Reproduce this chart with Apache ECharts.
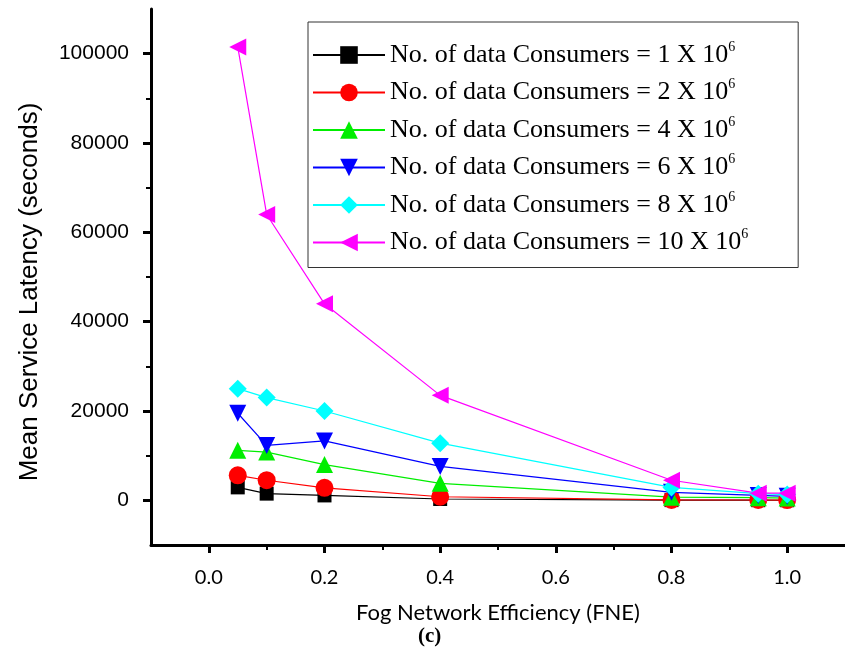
<!DOCTYPE html>
<html>
<head>
<meta charset="utf-8">
<script src="https://cdn.jsdelivr.net/npm/echarts@6/dist/echarts.min.js"></script>
<style>
  html, body { margin: 0; padding: 0; background: #fff; }
  #dom { width: 845px; height: 664px; }
</style>
</head>
<body>
<div id="dom"></div>
<script>
// fog network efficiency (x) and mean latency per consumer count
const fne = [0.05, 0.1, 0.2, 0.4, 0.8, 0.95, 1.0];
const consumers = [1, 2, 4, 6, 8, 10];
const lat1 = [2900, 1500, 1100, 300, 50, 30, 20];
const lat2 = [5600, 4500, 2800, 800, 100, 80, 60];
const lat4 = [11200, 10800, 8000, 3800, 700, 600, 500];
const lat6 = [19500, 12300, 13300, 7600, 1800, 1100, 900];
const lat8 = [25000, 23000, 20000, 12800, 2900, 1500, 1300];
const lat10 = [101500, 64000, 44000, 23500, 4500, 1600, 1600];
const yMajor = [0, 20000, 40000, 60000, 80000, 100000];
const yMinor = [10000, 30000, 50000, 70000, 90000];
const xMajor = [0, 0.2, 0.4, 0.6, 0.8, 1.0];
const xMinor = [0.1, 0.3, 0.5, 0.7, 0.9];

const latencies = [lat1, lat2, lat4, lat6, lat8, lat10];
const colors = ['#000000', '#ff0000', '#00ee00', '#0000ff', '#00ffff', '#ff00ff'];
const symbols = ['rect', 'circle', 'triangle', 'triangle', 'diamond', 'triangle'];
const rotates = [0, 0, 0, 180, 0, 90];
const sizes = [14, 18, 17, 17, 18, 17];

let series = consumers.map((c, i) => ({
  name: 'No. of data Consumers = ' + c + ' X 10',
  type: 'line',
  data: fne.map((x, j) => [x, latencies[i][j]]),
  symbol: symbols[i],
  symbolRotate: rotates[i],
  symbolSize: sizes[i],
  color: colors[i],
  lineStyle: { width: 1.2, color: colors[i] },
  itemStyle: { color: colors[i] }
}));

let option = {
  animation: false,
  grid: { left: 151, top: 9, right: -9, bottom: 119, containLabel: false },
  legend: {
    orient: 'vertical',
    left: 308,
    top: 22,
    padding: [18, 50, 10, 4],
    borderColor: '#333',
    borderWidth: 1,
    itemWidth: 72,
    itemHeight: 22,
    itemGap: 7.5,
    itemTextGap: 13,
    formatter: name => name + '{sup|6}',
    textStyle: {
      fontFamily: 'Liberation Serif',
      fontSize: 26,
      lineHeight: 30,
      color: '#000',
      rich: {
        sup: { fontFamily: 'Liberation Serif', fontSize: 14, lineHeight: 14, verticalAlign: 'top', color: '#000' }
      }
    },
    data: series.map(s => s.name)
  },
  xAxis: [
    {
      type: 'value',
      min: -0.1,
      max: 1.1,
      interval: 0.1,
      name: 'Fog Network Efficiency (FNE)',
      nameLocation: 'middle',
      nameGap: 57,
      nameTextStyle: { fontFamily: 'Lato', fontSize: 22, color: '#000' },
      axisLine: { onZero: false, lineStyle: { color: '#000', width: 3 } },
      axisTick: { customValues: xMajor, length: 8, lineStyle: { width: 3 } },
      axisLabel: {
        customValues: xMajor,
        margin: 23,
        fontFamily: 'Lato',
        fontSize: 20,
        color: '#000',
        formatter: v => v.toFixed(1)
      },
      splitLine: { show: false }
    },
    {
      type: 'value',
      position: 'bottom',
      min: -0.1,
      max: 1.1,
      interval: 0.1,
      axisLine: { show: false, onZero: false },
      axisTick: { customValues: xMinor, length: 5, lineStyle: { color: '#000', width: 2 } },
      axisLabel: { show: false },
      splitLine: { show: false }
    }
  ],
  yAxis: [
    {
      type: 'value',
      min: -10000,
      max: 110000,
      interval: 10000,
      name: 'Mean Service Latency (seconds)',
      nameLocation: 'middle',
      nameGap: 108,
      nameTextStyle: { fontFamily: 'Liberation Sans', fontSize: 26, color: '#000', padding: [0, 30, 0, 0] },
      axisLine: { show: true, onZero: false, lineStyle: { color: '#000', width: 3 } },
      axisTick: { customValues: yMajor, length: 8, lineStyle: { width: 3 } },
      axisLabel: {
        customValues: yMajor,
        margin: 22,
        fontFamily: 'Liberation Sans',
        fontSize: 21,
        color: '#000',
        formatter: v => String(v)
      },
      splitLine: { show: false }
    },
    {
      type: 'value',
      position: 'left',
      min: -10000,
      max: 110000,
      interval: 10000,
      axisLine: { show: false, onZero: false },
      axisTick: { customValues: yMinor, length: 5, lineStyle: { color: '#000', width: 2 } },
      axisLabel: { show: false },
      splitLine: { show: false }
    }
  ],
  graphic: [
    {
      type: 'text',
      left: 418,
      top: 626,
      style: { text: '(c)', fontFamily: 'Liberation Serif', fontWeight: 'bold', fontSize: 21, fill: '#000' }
    }
  ],
  series: series
};

let dom = echarts.init(document.getElementById('dom'));
dom.setOption(option);
</script>
</body>
</html>
